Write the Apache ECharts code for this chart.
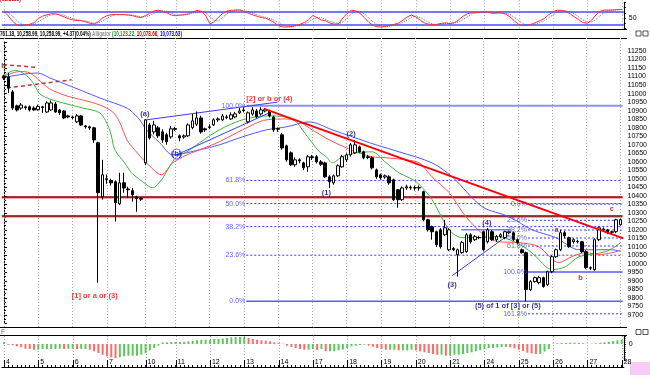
<!DOCTYPE html>
<html><head><meta charset="utf-8">
<script src="https://cdn.jsdelivr.net/npm/echarts/dist/echarts.min.js"></script>
<style>html,body{margin:0;padding:0;background:#fff}#c{width:650px;height:375px}</style>
</head><body><div id="c"></div>
<script>
const dayLabels = ['4','5','6','7','10','11','12','13','14','17','18','19','20','21','24','25','26','27','28'];
const barsPerDay = [8,8,8,9,7,8,8,8,8,8,8,8,8,8,8,8,8,8,1];
// [open, close, low, high]
const candles = [
[11100,11092,11080,11110],[11098,11033,11004,11121],[11010,10915,10904,11021],[10928,10904,10895,10935],
[10915,10933,10905,10945],[10922,10918,10905,10930],[10922,10904,10895,10930],[10915,10904,10898,10925],
[10906,10925,10900,10935],[10922,10918,10887,10928],[10892,10945,10887,10955],[10904,10945,10898,10960],
[10939,10892,10887,10950],[10904,10887,10875,10910],[10898,10857,10850,10904],[10869,10863,10855,10875],
[10863,10860,10850,10870],[10834,10869,10828,10880],[10869,10816,10810,10875],[10810,10805,10795,10815],
[10805,10799,10787,10812],[10799,10728,10711,10805],[10711,10418,9890,10717],[10394,10523,10377,10611],
[10500,10494,10470,10525],[10490,10476,10460,10500],[10482,10359,10248,10490],[10353,10476,10345,10535],
[10476,10446,10418,10535],[10440,10435,10388,10453],[10430,10406,10365,10446],[10394,10383,10306,10400],
[10385,10380,10370,10392],[10593,10846,10580,10850],[10816,10740,10730,10828],[10775,10816,10760,10840],
[10799,10752,10740,10810],[10775,10728,10711,10790],[10758,10717,10700,10770],[10746,10793,10735,10810],
[10790,10795,10780,10805],[10752,10740,10720,10760],[10745,10752,10735,10760],[10752,10816,10745,10825],
[10800,10840,10790,10880],[10820,10857,10810,10895],[10857,10775,10765,10870],[10793,10787,10775,10800],
[10800,10805,10790,10820],[10816,10846,10810,10855],[10846,10851,10835,10860],[10846,10869,10840,10880],
[10860,10863,10850,10875],[10851,10875,10845,10890],[10863,10881,10855,10892],[10887,10898,10880,10915],
[10900,10904,10890,10920],[10834,10887,10825,10895],[10880,10904,10870,10920],[10898,10863,10855,10910],
[10881,10904,10870,10920],[10898,10906,10890,10915],[10898,10869,10860,10905],[10863,10787,10775,10870],
[10790,10795,10775,10800],[10758,10681,10670,10770],[10693,10611,10600,10700],[10652,10582,10575,10660],
[10582,10611,10570,10625],[10611,10605,10590,10620],[10593,10564,10550,10600],[10570,10629,10541,10640],
[10629,10625,10610,10640],[10629,10599,10590,10640],[10599,10585,10575,10610],[10593,10511,10505,10600],
[10511,10482,10446,10520],[10476,10517,10465,10525],[10517,10576,10510,10585],[10570,10629,10565,10640],
[10611,10640,10600,10650],[10640,10699,10630,10710],[10652,10699,10645,10728],[10687,10658,10650,10695],
[10658,10623,10615,10665],[10629,10625,10615,10640],[10623,10564,10555,10630],[10552,10511,10500,10560],
[10523,10505,10495,10530],[10510,10517,10500,10525],[10511,10476,10465,10520],[10494,10377,10370,10500],
[10435,10377,10330,10440],[10377,10446,10370,10455],[10446,10453,10435,10465],[10450,10446,10435,10460],
[10446,10448,10430,10460],[10448,10446,10430,10460],[10424,10259,10250,10430],[10259,10200,10190,10265],
[10218,10189,10142,10225],[10189,10113,10100,10195],[10200,10101,10090,10210],[10171,10212,10165,10259],
[10083,10200,10075,10210],[10090,10083,10075,10100],[10054,10083,9925,10090],[10066,10125,10060,10135],
[10072,10171,10065,10180],[10171,10130,10120,10180],[10142,10160,10135,10170],[10155,10154,10145,10165],
[10189,10083,10075,10195],[10130,10200,10120,10210],[10189,10142,10135,10200],[10142,10160,10130,10170],
[10160,10171,10150,10180],[10154,10189,10145,10195],[10183,10189,10175,10195],[10183,10142,10135,10190],
[10142,10125,10115,10150],[10083,10066,10060,10090],[10066,9849,9779,10072],[9849,9896,9840,9905],
[9896,9919,9890,9925],[9890,9919,9880,9930],[9919,9867,9860,9925],[9878,9954,9870,9960],
[9954,10042,9945,10050],[10042,10083,10035,10090],[10083,10183,10075,10200],[10183,10165,10150,10195],
[10154,10101,10095,10160],[10130,10142,10120,10150],[10130,10133,10120,10142],[10130,10072,10065,10135],
[10072,9978,9970,10080],[9978,9975,9965,9985],[9966,10142,9960,10150],[10142,10212,10135,10220],
[10200,10205,10190,10215],[10200,10183,10175,10205],[10185,10189,10175,10195],[10189,10259,10180,10265],
[10230,10259,10225,10265]
];
const stochK = [82,60,35,17,13,16,20,28,48,59,65,70,70,64,55,47,41,38,37,32,25,21,33,50,61,66,67,66,66,64,
61,55,52,62,73,84,87,82,74,64,61,64,66,70,79,86,82,62,22,32,54,72,83,87,88,88,80,72,65,58,
52,49,40,28,13,7,7,10,15,20,28,42,62,52,40,36,26,21,22,50,72,87,84,72,52,30,15,8,7,10,
15,20,26,40,55,64,55,40,27,20,17,20,25,27,23,28,41,58,70,75,76,78,80,76,72,74,74,68,55,35,
20,14,15,21,29,38,48,66,80,87,86,82,69,55,41,28,25,40,65,82,88,88,88,90,91];
const stochD = [85,75,59,37,22,15,16,21,32,45,57,65,68,68,63,55,48,42,39,36,31,26,26,35,48,59,65,66,66,65,
64,60,56,56,62,73,81,84,81,73,66,63,64,67,72,78,82,77,55,39,36,53,70,81,86,88,85,80,72,65,
58,53,47,39,27,16,9,8,11,15,21,30,44,52,51,43,34,28,23,31,48,70,81,81,69,51,32,18,10,8,
11,15,20,29,40,53,58,53,41,29,21,19,21,24,25,26,31,42,56,68,74,76,78,78,76,74,73,72,66,53,
37,23,16,17,22,29,38,51,65,78,84,85,79,69,55,41,31,31,43,62,78,86,88,89,90];
const ao = [1.7,-0.8,-1.3,-2.3,-3.3,-4.7,-5,-5.7,-5.7,-5,-5,-5,-5,-4.7,-5,-4.7,-4.7,-5,-5,-5,
-5.7,-7.3,-9,-10.7,-12.3,-13.3,-14,-13.3,-12.3,-11.7,-11.7,-11.7,-10.7,-9,-6.3,-4,-1.7,1.7,1.7,2,
2,2,2.3,2.7,3,3.7,4.3,4.3,4.3,5,5,5.5,6,6.7,7,7,7,6,5,4.3,
3.7,3.3,2.7,1.7,1,0.3,-1.7,-3,-4,-5,-5.7,-5.7,-5,-5.7,-5,-7.3,-7.3,-7.3,-6.3,-5.5,
-4,-2.3,-1.7,-1,-0.7,-1.7,-2.7,-4,-5,-5.7,-5.7,-5.7,-6.3,-6.3,-6.3,-5.7,-6.3,-7.3,-8.3,-9,
-10,-10.7,-10.7,-11.7,-11.7,-10.7,-10.7,-10,-9,-8.3,-7.3,-6.3,-5,-4,-4,-3.5,-3,-3,-3.3,-4.3,
-5.7,-7,-8.7,-9.5,-10,-10,-7.5,-5,0.5,0.7,1,1,1.3,1.3,1,0.7,0.3,0.3,0.7,1.3,1.7,2.3,3,3.7,4.3];
// Alligator lines [bar index, price]
const jaw = [[-0.5,11092],[3.7,11111],[7.9,11121],[10.7,11092],[14.7,11052],[18.4,11015],[22.4,10974],[27,10933],[29.4,10904],[31.7,10846],[33.3,10787],[36.4,10711],[39.4,10640],[45.7,10670],[50.3,10699],[55.7,10746],[61.3,10787],[66,10805],[71.3,10834],[76.7,10787],[81.4,10746],[86.9,10699],[92.3,10658],[100,10593],[104.7,10511],[111.7,10336],[118,10277],[123.3,10201],[128.9,10154],[134.3,10083],[137.3,10083],[142,10083],[144,10074]];
const teeth = [[-0.5,11097],[3.7,11130],[6.1,11121],[8.4,11074],[10.7,11027],[14.7,10986],[18.4,10962],[22.4,10933],[25.4,10892],[27,10834],[28.7,10728],[30.5,10670],[33.3,10593],[36.8,10523],[39.4,10593],[42.7,10640],[45.7,10670],[50.3,10717],[55.7,10787],[61.3,10846],[66,10851],[69,10834],[72,10787],[76,10728],[80,10681],[83,10652],[86,10629],[89.3,10623],[93.9,10611],[97,10593],[100,10511],[104,10418],[107.9,10277],[112.6,10160],[115.6,10130],[120.3,10125],[124.9,10101],[129.6,10007],[132.6,10042],[135.9,10066],[138.9,10054],[142,10066],[144,10079]];
const lips = [[-0.5,11103],[1.4,11127],[2.6,11136],[4.2,11124],[6.1,11086],[7.2,11045],[8.4,10998],[10.7,10968],[14.7,10939],[18.4,10915],[22.4,10886],[24.7,10787],[25.9,10670],[28.2,10593],[29.8,10535],[32.4,10482],[34.7,10447],[36.8,10494],[38.2,10552],[40.3,10629],[42.7,10658],[45.7,10711],[50.3,10787],[55.7,10846],[61.3,10869],[66,10863],[68.3,10834],[69.7,10787],[72,10711],[73.7,10658],[75.3,10629],[76.7,10593],[79,10629],[82.3,10652],[86,10658],[89.3,10593],[92.3,10535],[96.3,10482],[100,10377],[104,10200],[107,10154],[111.7,10154],[115.6,10160],[119.6,10125],[123.3,10066],[126.6,9984],[128,9966],[131.2,9984],[134.3,10042],[140.6,10072],[144,10123]];
const trendRed = [[60.8,10910],[144.7,10150]];
const wedgeUpper = [[33.3,10846],[63.9,10950]];
const wedgeLower = [[40.3,10640],[62,10887]];
const triLine = [[104.7,9931],[117.9,10171]];
const triTop = [[106.8,10200],[118.4,10200]];
const srLevels = [10392, 10285];
const dashTop = [[[-0.2,11170],[7.7,11154]],[[0.7,11033],[15.8,11081]]];
const fib1Start = 56.6;
const fib1 = [['100.0%',10928,'solid'],['61.8%',10490,'dot'],['50.0%',10354,'dot'],['38.2%',10219,'dot'],['23.6%',10051,'dot'],['0.0%',9780,'base']];
const fib2Start = 122.4;
const fib2 = [['0.0%',10351,'dot'],['23.6%',10256,'dot'],['38.2%',10199,'dot'],['50.0%',10152,'dot'],['61.8%',10105,'dot'],['100.0%',9953,'base'],['161.8%',9707,'dot']];
const notes = [
 ['(a)',32.9,10880,'#000080'],['(b)',40.3,10645,'#000080'],['(1)',75.3,10416,'#000080'],['(2)',81.1,10763,'#000080'],
 ['(3)',104.7,9876,'#000080'],['(4)',112.8,10240,'#000080'],['(5) of 1 of [3] or (5)',117.7,9753,'#000080'],
 ['[1] or a or (3)',21.2,9811,'#ff0000'],['[2] or b or (4)',62,10968,'#ff0000'],
 ['a',129.1,10199,'#cc0000'],['b',134.7,9917,'#cc0000'],['c',142,10322,'#cc0000'],['b',-0.1,11165,'#402020']
];

const categories = [], dayStart = [];
dayLabels.forEach((d,k)=>{ dayStart.push(categories.length); for(let j=0;j<barsPerDay[k];j++) categories.push(d+'/'+j); });
const dayStartSet = new Set(dayStart);
const N = categories.length;
const FONT = '"Liberation Sans", Arial, sans-serif';
const G = {left:1.86, width:622};

function dayLines(xi, yi, extTop, extBot){
  return {type:'custom', xAxisIndex:xi, yAxisIndex:yi, silent:true, clip:false, z:1,
    data: dayStart.map(i=>[i,0]), encode:{x:0,y:1},
    renderItem:(params, api)=>{
      const cs = params.coordSys; const x = Math.round(api.coord([api.value(0),0])[0]) + 0.5;
      return {type:'line', shape:{x1:x,y1:cs.y-extTop,x2:x,y2:cs.y+cs.height+extBot},
        style:{stroke:'#a8a8a8',lineWidth:1,lineDash:[1,2]}};
    }};
}
function seg(data, color, width, type, z){
  return {type:'line', xAxisIndex:2, yAxisIndex:1, data, symbol:'none', silent:true, z:z||3,
    lineStyle:{color, width, type:type||'solid'}};
}
const series = [];
series.push(dayLines(0,0,2,0.5));
series.push(dayLines(1,1,4.5,3.5));
series.push(dayLines(3,2,0,0));
series.push({type:'line', xAxisIndex:0, yAxisIndex:0, data:stochD, symbol:'none', z:4,
  lineStyle:{color:'#707070', width:1, type:[1,1]}});
series.push({type:'line', xAxisIndex:0, yAxisIndex:0, data:stochK, symbol:'none', z:5,
  lineStyle:{color:'#ff3030', width:1},
  markLine:{silent:true, symbol:'none', label:{show:false}, lineStyle:{color:'#4848ff', width:1.5, type:'solid'},
    data:[{yAxis:80},{yAxis:20}]}});
fib1.forEach(([lab,v,st])=>{
  const col = st==='solid' ? '#9090ff' : (st==='base' ? '#5a5aff' : '#3a3aff');
  const w = st==='solid' ? 2 : (st==='base' ? 1.5 : 1);
  series.push(seg([[fib1Start,v],[144.5,v]], col, w, st==='dot'?[2,2]:'solid', 2));
});
fib2.forEach(([lab,v,st])=>{
  series.push(seg([[fib2Start,v],[144.5,v]], st==='base'?'#5a5aff':'#3a3aff', st==='base'?1.5:1, st==='dot'?[2,2]:'solid', 2));
});
series.push({type:'scatter', xAxisIndex:2, yAxisIndex:1, symbolSize:0, silent:true, z:6,
  data: fib1.map(f=>({value:[fib1Start,f[1]], text:f[0]})).concat(fib2.map(f=>({value:[fib2Start,f[1]], text:f[0]}))),
  label:{show:true, position:'left', distance:1, formatter:p=>p.data.text, color:'#3a3aff', fontSize:7, fontFamily:FONT}});
series.push({type:'line', xAxisIndex:2, yAxisIndex:1, data:jaw, symbol:'none', smooth:0.3, z:3, lineStyle:{color:'#5555ff', width:1}});
series.push({type:'line', xAxisIndex:2, yAxisIndex:1, data:teeth, symbol:'none', smooth:0.3, z:3, lineStyle:{color:'#ff5050', width:1}});
series.push({type:'line', xAxisIndex:2, yAxisIndex:1, data:lips, symbol:'none', smooth:0.3, z:3, lineStyle:{color:'#3cb43c', width:1}});
dashTop.forEach(d=>series.push(seg(d,'#b04040',1.5,[4,3],3)));
series.push(seg(wedgeUpper,'#3a3aff',1,'solid',3));
series.push(seg(wedgeLower,'#3a3aff',1,'solid',3));
series.push(seg(triLine,'#3a3aff',1,'solid',3));
series.push(seg(triTop,'#3a3aff',1,'solid',3));
series.push(seg(trendRed,'#ff0000',2,'solid',7));
series.push({type:'candlestick', xAxisIndex:1, yAxisIndex:1, data:candles, barWidth:3, z:5,
  itemStyle:{color:'#ffffff', color0:'#000000', borderColor:'#000000', borderColor0:'#000000', borderWidth:1},
  markLine:{silent:true, symbol:'none', label:{show:false}, z:2,
    data: srLevels.map(v=>({yAxis:v})), lineStyle:{color:'#7a0000', width:1.5, type:'solid', shadowColor:'rgba(255,120,120,0.9)', shadowBlur:0, shadowOffsetY:1}}});
series.push({type:'scatter', xAxisIndex:2, yAxisIndex:1, silent:true, z:8, symbolSize:0,
  data: notes.map(n=>({value:[n[1],n[2]], text:n[0], label:{color:n[3]}})),
  label:{show:true, position:'inside', formatter:p=>p.data.text, fontSize:7.5, fontWeight:'bold', fontFamily:FONT}});
series.push({type:'scatter', xAxisIndex:2, yAxisIndex:1, silent:true, z:7, symbol:'circle', symbolSize:10,
  data:[[40.3,10645]], itemStyle:{color:'rgba(0,0,0,0)', borderColor:'#3a3aff', borderWidth:1}});
series.push({type:'bar', xAxisIndex:3, yAxisIndex:2, data: ao.map((v,i)=>({value:v,
  itemStyle:{color: (i===0 || v>=ao[i-1]) ? '#5cc85c' : '#ff6a6a'}})), barWidth:2, z:3});
series.push({type:'custom', xAxisIndex:4, yAxisIndex:3, silent:true, clip:false, data: dayStart.map(i=>[i,0]), encode:{x:0,y:1},
  renderItem:(params, api)=>{ const cs=params.coordSys; const x=Math.round(api.coord([api.value(0),0])[0])+0.5;
    return {type:'line', shape:{x1:x,y1:cs.y,x2:x,y2:cs.y+cs.height}, style:{stroke:'#000',lineWidth:1}}; }});

const axisTxt = {fontSize:7, color:'#000', fontFamily:FONT, margin:5};
const hdrFont = 'bold 7px '+FONT;
const option = {
  animation:false,
  grid:[
    {...G, top:2.25, height:26.25},
    {...G, top:42.5, height:281},
    {...G, top:336, height:24},
    {...G, top:360, height:7}
  ],
  xAxis:[
    {type:'category', gridIndex:0, data:categories, show:false},
    {type:'category', gridIndex:1, data:categories, show:false},
    {type:'value', gridIndex:1, min:-0.5, max:N-0.5, show:false},
    {type:'category', gridIndex:2, data:categories, show:false},
    {type:'category', gridIndex:3, data:categories,
      axisLine:{show:true, lineStyle:{color:'#000', width:1}},
      axisTick:{show:true, inside:true, length:2, interval:0, alignWithLabel:true, lineStyle:{color:'#000'}},
      axisLabel:{show:true, inside:true, interval:(i)=>dayStartSet.has(i), formatter:v=>v.split('/')[0],
        align:'left', margin:1, fontSize:7, color:'#000', fontFamily:FONT, padding:[0,0,0,2]},
      splitLine:{show:false}}
  ],
  yAxis:[
    {type:'value', gridIndex:0, min:0, max:125, interval:25, position:'right',
      axisLine:{show:true, lineStyle:{color:'#000'}}, axisTick:{show:true, length:2, lineStyle:{color:'#000'}},
      axisLabel:{...axisTxt, formatter:v=>v===50?'50':''}, splitLine:{show:false}},
    {type:'value', gridIndex:1, min:9650, max:11300, interval:50, position:'right',
      axisLine:{show:true, lineStyle:{color:'#000'}}, axisTick:{show:true, length:3, lineStyle:{color:'#000'}},
      minorTick:{show:true, splitNumber:2, length:2, lineStyle:{color:'#000'}},
      axisLabel:{...axisTxt, showMinLabel:false, showMaxLabel:false, formatter:v=>String(v)}, splitLine:{show:false}},
    {type:'value', gridIndex:2, min:-16, max:8, interval:8, position:'right',
      axisLine:{show:true, lineStyle:{color:'#000'}}, axisTick:{show:true, length:2, lineStyle:{color:'#000'}},
      minorTick:{show:true, splitNumber:4, length:1.5, lineStyle:{color:'#000'}},
      axisLabel:{...axisTxt, formatter:v=>v===0?'0':''}, splitLine:{show:false}},
    {type:'value', gridIndex:3, show:false}
  ],
  graphic:[
    {type:'line', shape:{x1:0,y1:29.5,x2:627,y2:29.5}, style:{stroke:'#000',lineWidth:1}},
    {type:'line', shape:{x1:0,y1:38.5,x2:627,y2:38.5}, style:{stroke:'#000',lineWidth:1}},
    {type:'line', shape:{x1:0,y1:327.5,x2:627,y2:327.5}, style:{stroke:'#000',lineWidth:1}},
    {type:'line', shape:{x1:0,y1:335.5,x2:627,y2:335.5}, style:{stroke:'#000',lineWidth:1}},
    {type:'text', x:0, y:-4, scaleX:0.7, style:{text:'(91.2135)', fill:'#e00000', font:hdrFont}},
    {type:'text', x:0, y:30.5, scaleX:0.66, style:{text:'{k|761.18, 10,258.99, 10,258.99, +4.37(0.04%)} {g|Alligator} {gr|(10,123.22,} {r|10,078.66,} {b|10,073.63)}',
      font:hdrFont, rich:{k:{fill:'#000',font:hdrFont},g:{fill:'#909090',font:hdrFont},gr:{fill:'#119911',font:hdrFont},r:{fill:'#dd0000',font:hdrFont},b:{fill:'#0000dd',font:hdrFont}}}},
    {type:'text', x:1, y:329, style:{text:'F', fill:'#666', font:'7px '+FONT}},
    {type:'rect', shape:{x:636,y:31,width:5,height:5}, style:{fill:'#fff',stroke:'#555',lineWidth:1}},
    {type:'rect', shape:{x:643,y:31,width:5,height:5}, style:{fill:'#fff',stroke:'#555',lineWidth:1}},
    {type:'rect', shape:{x:636,y:329.5,width:5,height:5}, style:{fill:'#fff',stroke:'#555',lineWidth:1}},
    {type:'rect', shape:{x:643,y:329.5,width:5,height:5}, style:{fill:'#fff',stroke:'#555',lineWidth:1}},
    {type:'rect', shape:{x:630,y:362,width:20,height:13}, style:{fill:'#f6ccf6'}}
  ],
  series
};
const chart = echarts.init(document.getElementById('c'), null, {renderer:'canvas'});
chart.setOption(option);
</script></body></html>
